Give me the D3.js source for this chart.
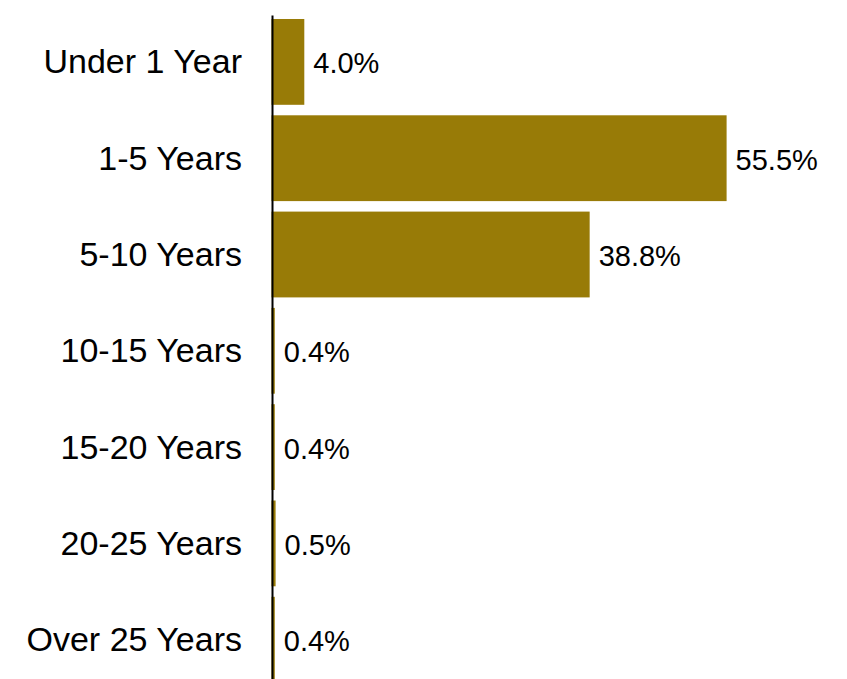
<!DOCTYPE html>
<html>
<head>
<meta charset="utf-8">
<script src="https://cdn.jsdelivr.net/npm/d3@7"></script>
<style>
  html, body { margin: 0; padding: 0; background: #fff; }
  svg { display: block; }
  text { font-family: "Liberation Sans", Arial, Helvetica, sans-serif; fill: #000; }
</style>
</head>
<body>
<script>
// Maturity buckets and their share of the portfolio (%)
const categories = ["Under 1 Year", "1-5 Years", "5-10 Years", "10-15 Years", "15-20 Years", "20-25 Years", "Over 25 Years"];
const values = [4.0, 55.5, 38.8, 0.4, 0.4, 0.5, 0.4];

const width = 847, height = 679;
const barColor = "#987b07";

const svg = d3.select("body").append("svg")
  .attr("width", width)
  .attr("height", height);

const x = d3.scaleLinear()
  .domain([0, 60])
  .range([271.5, 271.5 + 60 * 8.2]);

const y = d3.scaleBand()
  .domain(categories)
  .range([15, 686.6])
  .paddingInner(0.109)
  .paddingOuter(0.0415);

const data = categories.map((c, i) => ({ cat: c, val: values[i] }));

// Bars
svg.append("g")
  .selectAll("rect")
  .data(data)
  .join("rect")
  .attr("x", x(0))
  .attr("y", d => y(d.cat))
  .attr("width", d => x(d.val) - x(0))
  .attr("height", y.bandwidth())
  .attr("fill", barColor);

// Value labels
svg.append("g")
  .selectAll("text")
  .data(data)
  .join("text")
  .attr("x", d => x(d.val) + 9)
  .attr("y", d => y(d.cat) + y.bandwidth() / 2)
  .attr("dy", "0.4em")
  .style("font-size", "29px")
  .text(d => d.val.toFixed(1) + "%");

// Category axis, drawn over the bar bases
const axis = svg.append("g")
  .attr("transform", "translate(272,0)")
  .call(d3.axisLeft(y).tickSize(0).tickPadding(30));

axis.select(".domain")
  .attr("stroke", "#000")
  .attr("stroke-width", 2);

axis.selectAll(".tick text")
  .attr("dy", "0.34em")
  .style("font-size", "34px")
  .style("font-family", "'Liberation Sans', Arial, Helvetica, sans-serif")
  .attr("fill", "#000");
</script>
</body>
</html>
